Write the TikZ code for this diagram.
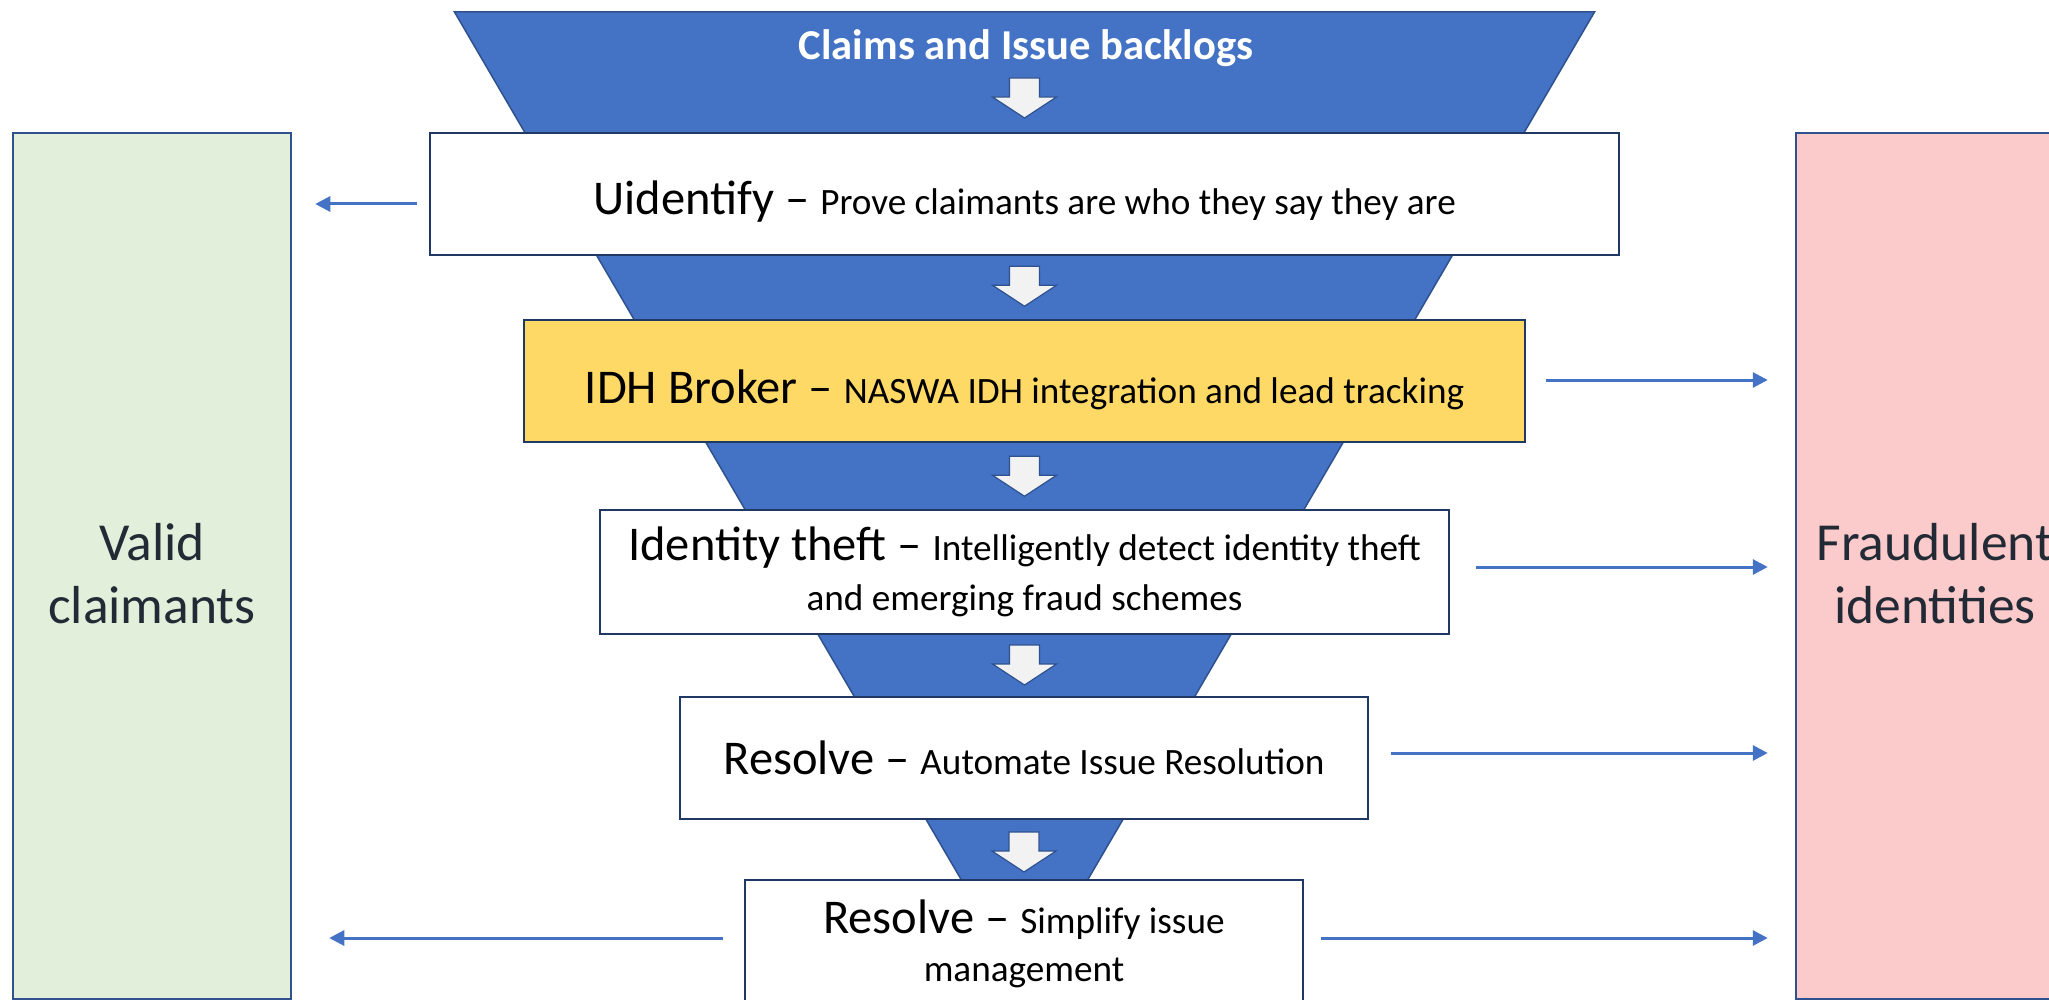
\documentclass[tikz,border=0pt]{standalone}
\usepackage{fontspec}
\setmainfont{Carlito}
\usetikzlibrary{arrows.meta,calc}
\definecolor{funnelblue}{HTML}{4472C4}
\definecolor{funneledge}{HTML}{2F528F}
\definecolor{boxedge}{HTML}{1F3864}
\definecolor{idhyellow}{HTML}{FFD966}
\definecolor{validgreen}{HTML}{E2EFDA}
\definecolor{fraudpink}{HTML}{FBCACA}
\definecolor{sidetext}{HTML}{222A35}
\definecolor{arrowfill}{HTML}{F2F2F2}
\newcommand\stagebig{\fontsize{48.5}{50}\selectfont}
\newcommand\stagesmall{\fontsize{37.2}{49}\selectfont}
\tikzset{
  downblock/.pic={
    \filldraw[fill=arrowfill, draw=funneledge, line width=1.2pt]
      (-15,0) -- (15,0) -- (15,19) -- (32,19) -- (0,40) -- (-32,19) -- (-15,19) -- cycle;
  }
}
\begin{document}
\begin{tikzpicture}[x=1pt,y=-1pt,
  stagebox/.style={draw=boxedge, line width=2.5pt, fill=white, inner sep=0pt,
    align=center, text=black, font=\stagebig},
  sidebox/.style={draw=funneledge, line width=2.5pt, inner sep=0pt, align=center,
    text=sidetext, font=\fontsize{53.5}{63}\selectfont},
  flow/.style={draw=funnelblue, line width=3pt, -{Triangle[length=15pt,width=15pt]}},
  titletext/.style={text=white, font=\bfseries\fontsize{42.6}{48}\selectfont, inner sep=0pt}
]
\useasboundingbox (0,0) rectangle (2049,1000);
\fill[white] (0,0) rectangle (2049,1000);

% funnel
\filldraw[fill=funnelblue, draw=funneledge, line width=1.5pt]
  (454.5,12) -- (1594.5,12) -- (1024.5,988) -- cycle;
\node[titletext] (title) at (1026,48.5) {Claims and Issue backlogs};

% side boxes
\node[sidebox, fill=validgreen, minimum width=278pt, minimum height=866pt] (valid) at (152,566)
  {\rule{0pt}{52pt}Valid\\claimants};
\node[sidebox, fill=fraudpink, minimum width=278pt, minimum height=866pt] (fraud) at (1935,566)
  {\rule{0pt}{52pt}Fraudulent\\identities};

% stage boxes
\node[stagebox, minimum width=1189pt, minimum height=122pt, text height=44pt, text depth=2pt] (b1) at (1024.5,194)
  {Uidentify – {\stagesmall Prove claimants are who they say they are}};
\node[stagebox, fill=idhyellow, minimum width=1001pt, minimum height=122pt, text height=47pt, text depth=2pt] (b2) at (1024.5,381)
  {IDH Broker – {\stagesmall NASWA IDH integration and lead tracking}};
\node[stagebox, line width=2pt, minimum width=849pt, minimum height=124pt] (b3) at (1024.5,572)
  {Identity theft – {\stagesmall Intelligently detect identity theft}\\{\stagesmall and emerging fraud schemes}};
\node[stagebox, line width=2pt, minimum width=688pt, minimum height=122pt] (b4) at (1024,758)
  {Resolve – {\stagesmall Automate Issue Resolution}};
\node[stagebox, line width=2pt, minimum width=558pt, minimum height=128pt] (b5) at (1024,944)
  {Resolve – {\stagesmall Simplify issue}\\[-2pt]{\stagesmall management}};

% block arrows
\pic at (1024.5,78) {downblock};
\pic at ($(b1.south)+(0,10)$) {downblock};
\pic at ($(b2.south)+(0,13)$) {downblock};
\pic at ($(b3.south)+(0,10)$) {downblock};
\pic at ($(b4.south)+(0,12)$) {downblock};

% connectors
\draw[flow] ($(b1.west)+(-12,10)$) -- ($(valid.east |- b1.west)+(23,10)$);
\draw[flow] ($(b5.west)+(-21,-6)$) -- ($(valid.east |- b5.west)+(37,-6)$);
\draw[flow] ($(b2.east)+(20,-1)$) -- ($(fraud.west |- b2.east)+(-27,-1)$);
\draw[flow] ($(b3.east)+(26,-5)$) -- ($(fraud.west |- b3.east)+(-27,-5)$);
\draw[flow] ($(b4.east)+(22,-5)$) -- ($(fraud.west |- b4.east)+(-27,-5)$);
\draw[flow] ($(b5.east)+(17,-6)$) -- ($(fraud.west |- b5.east)+(-27,-6)$);
\end{tikzpicture}
\end{document}
